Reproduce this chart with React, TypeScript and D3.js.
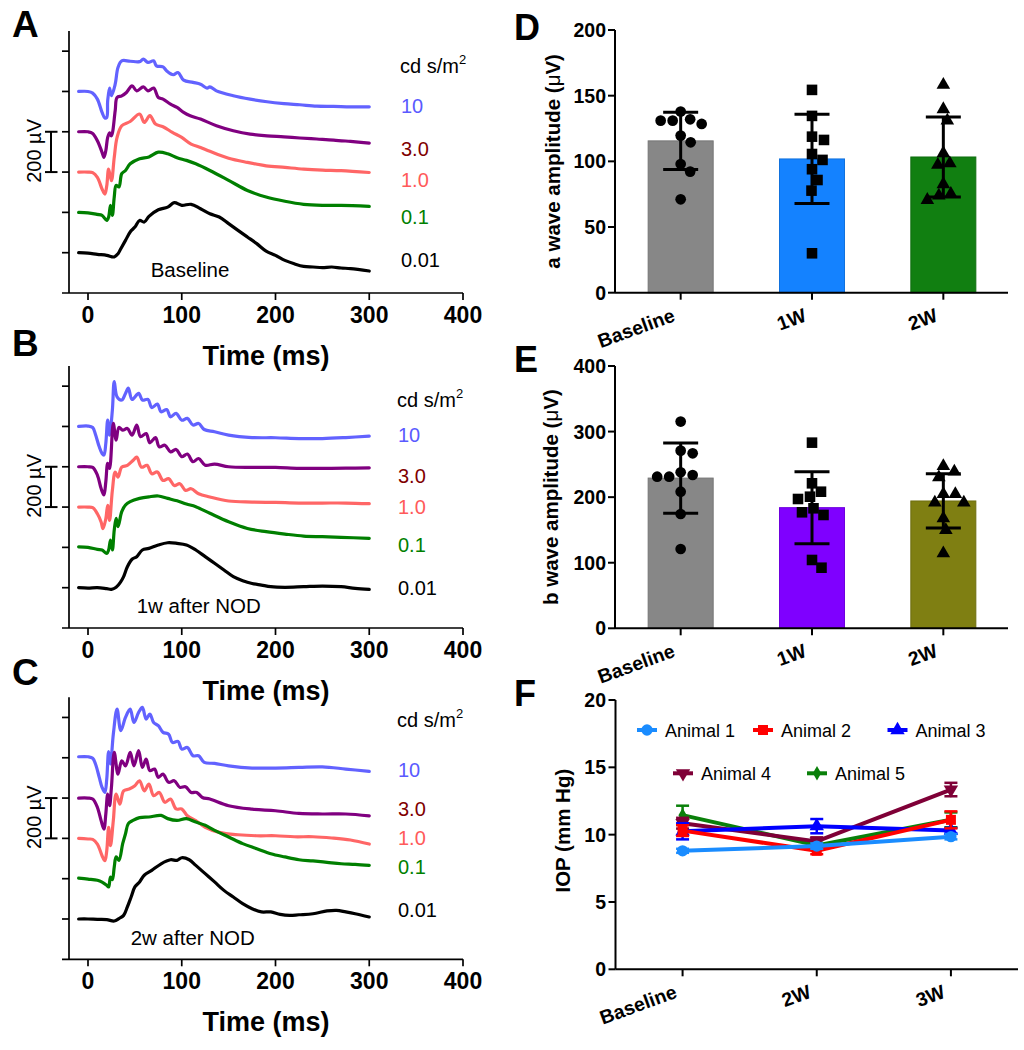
import React from "react";
import * as d3 from "d3";

type Pt = [number, number];

const FONT = "'Liberation Sans', Arial, Helvetica, sans-serif";

// ---------------- ERG traces: [time (ms), amplitude (µV) relative to the trace's own baseline]
// Panel A – Baseline
const ergA_10: Pt[] = [[-10,0],[0,0],[5,-8],[10,-38],[15,-104],[18,-132],[20,-129],[21,-46],[23,17],[25,-21],[29,36],[32,119],[36,152],[45,150],[55,148],[59,160],[64,144],[70,152],[73,127],[80,122],[84,102],[91,83],[96,94],[102,56],[112,45],[120,36],[127,17],[130,23],[137,3],[155,-21],[173,-38],[191,-51],[209,-60],[226,-66],[244,-73],[262,-74],[280,-76],[300,-76]];
const ergA_3: Pt[] = [[-10,0],[0,0],[5,-8],[10,-45],[15,-102],[17,-127],[19,-94],[21,-28],[23,-5],[25,-20],[29,104],[31,170],[36,178],[41,195],[47,228],[52,203],[59,223],[64,203],[70,217],[75,170],[80,162],[88,137],[95,121],[102,96],[109,79],[120,63],[137,30],[155,5],[173,-12],[191,-20],[209,-25],[226,-31],[244,-36],[262,-41],[280,-48],[300,-56]];
const ergA_1: Pt[] = [[-10,0],[0,0],[5,-3],[10,-26],[15,-84],[18,-109],[20,-68],[22,15],[25,-43],[28,73],[31,172],[36,230],[45,251],[55,288],[60,246],[66,280],[72,238],[80,225],[90,197],[100,172],[110,139],[120,122],[130,103],[150,69],[170,48],[190,31],[210,23],[230,15],[250,10],[270,7],[300,-2]];
const ergA_01: Pt[] = [[-10,0],[0,-2],[10,-10],[15,-15],[20,-40],[22,-23],[24,35],[26,-15],[28,76],[30,134],[33,126],[36,192],[40,208],[45,241],[55,266],[65,275],[75,299],[85,291],[95,271],[105,258],[115,241],[130,208],[150,159],[170,109],[190,76],[210,55],[230,40],[250,35],[270,35],[300,30]];
const ergA_001: Pt[] = [[-10,0],[0,-2],[10,-8],[20,-13],[28,-21],[32,-5],[35,20],[40,61],[45,103],[50,127],[55,160],[60,152],[65,180],[75,213],[85,226],[92,248],[100,235],[110,240],[120,218],[130,193],[140,177],[150,144],[160,111],[170,78],[180,45],[190,8],[200,-13],[210,-38],[220,-55],[230,-68],[240,-71],[250,-74],[260,-71],[270,-76],[280,-79],[300,-91]];

// Panel B – 1w after NOD
const ergB_10: Pt[] = [[-10,0],[0,2],[5,-5],[8,-40],[12,-101],[15,-134],[17,-142],[19,-84],[21,31],[23,-43],[26,81],[28,222],[31,147],[36,131],[40,164],[43,190],[47,134],[54,164],[58,131],[64,134],[68,94],[74,111],[78,73],[84,84],[88,48],[94,65],[100,31],[106,40],[112,7],[118,15],[124,-15],[135,-26],[150,-43],[175,-55],[200,-56],[225,-60],[250,-60],[275,-55],[300,-48]];
const ergB_3: Pt[] = [[-10,0],[0,0],[5,-3],[10,-41],[14,-108],[17,-140],[19,-74],[21,17],[23,-8],[27,215],[30,132],[33,195],[37,182],[42,190],[47,157],[52,207],[56,149],[62,165],[66,119],[72,145],[76,99],[82,107],[88,74],[94,86],[100,50],[106,63],[112,25],[118,41],[125,8],[135,13],[150,0],[175,-3],[200,-3],[225,-8],[250,-8],[275,-7],[300,-5]];
const ergB_1: Pt[] = [[-10,0],[0,0],[5,-3],[10,-33],[14,-74],[16,-107],[19,-58],[21,8],[23,-66],[26,83],[29,174],[32,149],[36,198],[42,207],[48,231],[52,248],[57,198],[63,207],[68,165],[74,174],[80,132],[86,141],[92,107],[98,116],[104,83],[110,91],[118,66],[130,50],[150,30],[175,25],[200,23],[225,20],[250,20],[275,20],[300,17]];
const ergB_01: Pt[] = [[-10,3],[0,0],[10,-10],[15,-13],[20,-30],[22,-13],[24,36],[26,-13],[28,86],[30,144],[32,103],[36,177],[40,210],[45,227],[55,243],[65,251],[75,255],[85,243],[95,231],[105,215],[115,202],[130,169],[150,127],[170,94],[190,78],[210,66],[230,56],[250,53],[270,50],[300,45]];
const ergB_001: Pt[] = [[-10,0],[0,-2],[10,0],[20,-5],[25,-8],[30,2],[35,30],[38,55],[42,104],[47,141],[52,154],[58,187],[65,195],[75,212],[85,223],[95,220],[105,212],[115,187],[125,154],[135,121],[145,88],[155,55],[165,35],[175,21],[185,13],[195,5],[210,2],[230,5],[250,8],[270,5],[285,-3],[300,-8]];

// Panel C – 2w after NOD
const ergC_10: Pt[] = [[-10,5],[0,5],[5,-2],[8,-31],[12,-97],[15,-147],[18,-172],[20,-106],[22,31],[24,-31],[27,117],[31,241],[35,134],[40,200],[45,241],[49,175],[54,225],[58,250],[62,192],[66,217],[70,175],[75,159],[80,126],[86,117],[90,76],[96,81],[100,43],[106,51],[112,10],[118,10],[124,-23],[135,-28],[150,-40],[175,-51],[200,-51],[225,-48],[250,-45],[275,-56],[300,-68]];
const ergC_3: Pt[] = [[-10,0],[0,0],[5,-5],[10,-46],[14,-112],[17,-154],[19,-79],[21,20],[23,-38],[25,53],[28,227],[32,119],[36,185],[40,160],[45,227],[49,160],[54,235],[58,152],[62,193],[66,136],[71,144],[75,103],[80,119],[86,78],[92,86],[98,53],[104,56],[110,28],[116,28],[122,3],[130,-5],[150,-38],[175,-55],[200,-63],[225,-76],[250,-79],[275,-79],[300,-88]];
const ergC_1: Pt[] = [[-10,0],[0,-3],[5,-5],[10,-28],[15,-86],[18,-111],[20,-61],[22,55],[24,-36],[27,88],[30,220],[34,170],[38,236],[44,245],[50,261],[55,286],[60,236],[65,269],[70,212],[76,228],[82,179],[88,195],[94,146],[100,146],[106,112],[115,88],[125,55],[140,30],[160,18],[180,13],[200,13],[220,8],[240,8],[260,2],[280,-8],[300,-28]];
const ergC_01: Pt[] = [[-10,3],[0,-2],[10,-8],[15,-17],[20,-33],[22,-41],[24,8],[26,-5],[28,58],[30,108],[33,91],[37,174],[40,223],[43,273],[48,289],[55,303],[65,306],[78,314],[85,298],[95,289],[105,298],[115,281],[125,265],[135,240],[150,207],[165,174],[180,149],[195,124],[210,108],[225,94],[240,88],[255,81],[270,74],[285,71],[300,66]];
const ergC_001: Pt[] = [[-10,0],[0,0],[10,-2],[20,-3],[28,-10],[33,2],[38,18],[42,60],[46,109],[50,159],[55,184],[60,217],[68,241],[78,274],[88,294],[95,291],[100,304],[108,294],[115,266],[125,225],[135,184],[145,142],[155,109],[165,76],[175,51],[185,35],[195,35],[205,23],[215,18],[225,21],[240,26],[255,40],[265,43],[275,35],[285,26],[300,10]];

const intensityLabels = ["10", "3.0", "1.0", "0.1", "0.01"];
const timeTicks = [0, 100, 200, 300, 400];
const ergYTicks = [0, 200, 400, 600, 800, 1000];

// ---------------- Bar charts (individual eyes)
const barCategories = ["Baseline", "1W", "2W"];
const aWaveBaseline = [132, 131, 128.5, 131, 137.9, 114.5, 119.6, 98, 92.2, 71.1];
const aWave1W = [154.4, 134.6, 118.8, 116.3, 105.6, 101.1, 94, 85.8, 77.7, 30];
const aWave2W = [158.2, 139.7, 131, 106.2, 98.5, 97.3, 82.6, 75.2, 73.9, 70.6];
const bWaveBaseline = [315.3, 266.9, 270.9, 237.9, 231.2, 233.8, 231.2, 208.3, 174.3, 120.9];
const bWave1W = [283.1, 221.1, 197.2, 200.7, 208.3, 183, 176.9, 172.8, 92.4, 104.2];
const bWave2W = [238.9, 247.5, 230.3, 204.8, 204.8, 191.6, 191.6, 167.8, 149.9, 114.4];
const aTicks = [0, 50, 100, 150, 200];
const bTicks = [0, 100, 200, 300, 400];

// ---------------- IOP
const iopCategories = ["Baseline", "2W", "3W"];
const animalNames = ["Animal 1", "Animal 2", "Animal 3", "Animal 4", "Animal 5"];
const iopAnimal1 = [8.8, 9.15, 9.85];
const iopAnimal2 = [10.3, 8.8, 11.1];
const iopAnimal3 = [10.25, 10.63, 10.3];
const iopAnimal4 = [10.85, 9.5, 13.35];
const iopAnimal5 = [11.45, 9.2, 11.1];
const iopErr1 = [0.15, 0.2, 0.2];
const iopErr2 = [0.4, 0.25, 0.63];
const iopErr3 = [0.6, 0.53, 0.2];
const iopErr4 = [0.4, 0.3, 0.5];
const iopErr5 = [0.7, 0.2, 0.55];
const iopTicks = [0, 5, 10, 15, 20];

// ---------------- styles
const traceColors = ["#6262ff", "#800080", "#ff6666", "#007f00", "#000000"];
const labelColors = ["#5a5aff", "#800000", "#ff5a5a", "#008000", "#000000"];
const traceOffsets = [800, 600, 400, 200, 0];

type ErgProps = {
  letter: string; letterY: number; axisTop: number; axisBottom: number;
  traces: Pt[][]; labelX: number; cdY: number; labelYs: number[];
  note: string; noteX: number; noteY: number;
};

function ErgPanel(p: ErgProps) {
  const x = d3.scaleLinear().domain([0, 400]).range([88, 463]);
  const y = d3.scaleLinear().domain([-200, 1100]).range([p.axisBottom, p.axisTop]);
  const line = d3.line<Pt>().x(d => x(d[0])).y(d => y(d[1])).curve(d3.curveCatmullRom.alpha(0.5));
  const axX = 69;
  return (
    <g>
      <text x={12} y={p.letterY} fontSize={37} fontWeight="bold" fontFamily={FONT}>{p.letter}</text>
      {/* traces */}
      {p.traces.map((tr, i) => (
        <path key={i} d={line(tr.map(([t, v]) => [t, v + traceOffsets[i]] as Pt)) || ""}
          fill="none" stroke={traceColors[i]} strokeWidth={3.2} strokeLinejoin="round" strokeLinecap="round" />
      ))}
      {/* y axis */}
      <line x1={axX} x2={axX} y1={p.axisTop} y2={p.axisBottom} stroke="#000" strokeWidth={1.7} />
      {ergYTicks.map(t => (
        <line key={t} x1={62} x2={axX} y1={y(t)} y2={y(t)} stroke="#000" strokeWidth={1.7} />
      ))}
      {/* x axis */}
      <line x1={62} x2={x(400)} y1={p.axisBottom} y2={p.axisBottom} stroke="#000" strokeWidth={1.7} />
      {timeTicks.map(t => (
        <g key={t}>
          <line x1={x(t)} x2={x(t)} y1={p.axisBottom} y2={p.axisBottom + 7} stroke="#000" strokeWidth={1.7} />
          <text x={x(t)} y={p.axisBottom + 30} textAnchor="middle" fontSize={23} fontWeight="bold" fontFamily={FONT}>{t}</text>
        </g>
      ))}
      <text x={266} y={p.axisBottom + 72} textAnchor="middle" fontSize={27} fontWeight="bold" fontFamily={FONT}>Time (ms)</text>
      {/* scale bar */}
      <line x1={51} x2={51} y1={y(600)} y2={y(400)} stroke="#000" strokeWidth={2} />
      <line x1={45} x2={57.5} y1={y(600)} y2={y(600)} stroke="#000" strokeWidth={2} />
      <line x1={45} x2={57.5} y1={y(400)} y2={y(400)} stroke="#000" strokeWidth={2} />
      <text transform={`translate(41,${y(500) - 1}) rotate(-90)`} textAnchor="middle" fontSize={20} fontFamily={FONT}>200 µV</text>
      {/* intensity labels */}
      <text x={p.labelX} y={p.cdY} fontSize={20} fontFamily={FONT}>cd s/m<tspan fontSize={13} dy={-9}>2</tspan></text>
      {intensityLabels.map((l, i) => (
        <text key={l} x={p.labelX + 1} y={p.labelYs[i]} fontSize={20} fill={labelColors[i]} fontFamily={FONT}>{l}</text>
      ))}
      <text x={p.noteX} y={p.noteY} fontSize={20.5} fontFamily={FONT}>{p.note}</text>
    </g>
  );
}

function swarm(values: number[], yPos: (v: number) => number, minDist: number): number[] {
  const placed: { x: number; y: number }[] = [];
  const order = values.map((_, i) => i).sort((a, b) => values[b] - values[a]);
  const xs = values.map(() => 0);
  for (const i of order) {
    const py = yPos(values[i]);
    let best = 0;
    for (let step = 0; step < 400; step++) {
      const cand = step === 0 ? 0 : (step % 2 ? 1 : -1) * Math.ceil(step / 2) * 0.5;
      if (placed.every(q => Math.hypot(q.x - cand, q.y - py) >= minDist)) { best = cand; break; }
    }
    xs[i] = best;
    placed.push({ x: best, y: py });
  }
  return xs;
}

const markerPaths = [
  d3.symbol().type(d3.symbolCircle).size(90)() || "",
  d3.symbol().type(d3.symbolSquare).size(112)() || "",
  d3.symbol().type(d3.symbolTriangle).size(80)() || "",
];

type BarProps = {
  letter: string; letterY: number; top: number; bottom: number; max: number; ticks: number[];
  groups: number[][]; colors: string[]; label: string; labelX: number;
};

function BarPanel(p: BarProps) {
  const x = d3.scalePoint<string>().domain(barCategories).range([615, 1009]).padding(0.5);
  const y = d3.scaleLinear().domain([0, p.max]).range([p.bottom, p.top]);
  const barW = 65;
  return (
    <g fontFamily={FONT}>
      <text x={514} y={p.letterY} fontSize={36} fontWeight="bold">{p.letter}</text>
      {barCategories.map((c, gi) => {
        const vals = p.groups[gi];
        const m = d3.mean(vals) as number;
        const sd = d3.deviation(vals) as number;
        const cx = x(c) as number;
        const offs = swarm(vals, y, 12);
        return (
          <g key={c}>
            <rect x={cx - barW / 2} y={y(m)} width={barW} height={p.bottom - y(m)} fill={p.colors[gi]}
              stroke={d3.color(p.colors[gi])!.darker(0.4).toString()} strokeWidth={1} />
            {vals.map((v, i) => (
              <path key={i} d={markerPaths[gi]} transform={`translate(${cx + offs[i]},${y(v)})`} fill="#000" />
            ))}
            <line x1={cx} x2={cx} y1={y(m - sd)} y2={y(m + sd)} stroke="#000" strokeWidth={3} />
            <line x1={cx - 17.5} x2={cx + 17.5} y1={y(m - sd)} y2={y(m - sd)} stroke="#000" strokeWidth={3} />
            <line x1={cx - 17.5} x2={cx + 17.5} y1={y(m + sd)} y2={y(m + sd)} stroke="#000" strokeWidth={3} />
          </g>
        );
      })}
      <line x1={615} x2={615} y1={p.top} y2={p.bottom} stroke="#000" strokeWidth={2} />
      <line x1={615} x2={1008} y1={p.bottom} y2={p.bottom} stroke="#000" strokeWidth={2} />
      {p.ticks.map(t => (
        <g key={t}>
          <line x1={608} x2={615} y1={y(t)} y2={y(t)} stroke="#000" strokeWidth={2} />
          <text x={606} y={y(t) + 7} textAnchor="end" fontSize={19.5} fontWeight="bold">{t}</text>
        </g>
      ))}
      {barCategories.map(c => (
        <g key={c}>
          <line x1={x(c)} x2={x(c)} y1={p.bottom} y2={p.bottom + 7} stroke="#000" strokeWidth={2} />
          <text transform={`translate(${(x(c) as number) - 4.5},${p.bottom + 28}) rotate(-20)`} textAnchor="end"
            fontSize={19.5} fontWeight="bold">{c}</text>
        </g>
      ))}
      <text transform={`translate(${p.labelX},${(p.top + p.bottom) / 2}) rotate(-90)`} textAnchor="middle" fontSize={20.5} fontWeight="bold">
        {p.label} (<tspan fontWeight="normal">μ</tspan>V)
      </text>
    </g>
  );
}

const animalColors = ["#1a8cff", "#ff0000", "#0000ff", "#7f0037", "#0a800a"];
const animalSymbols = [
  d3.symbol().type(d3.symbolCircle).size(100)() || "",
  d3.symbol().type(d3.symbolSquare).size(100)() || "",
  d3.symbol().type(d3.symbolTriangle).size(90)() || "",
  d3.symbol().type(d3.symbolTriangle).size(90)() || "",
  d3.symbol().type(d3.symbolDiamond).size(60)() || "",
];
const animalRot = [0, 0, 0, 180, 0];
const legendPos = [[647, 730], [763, 730], [897.5, 730], [683, 773.3], [817, 773.3]];

function IopPanel() {
  const top = 700, bottom = 969.3;
  const x = d3.scalePoint<string>().domain(iopCategories).range([615.5, 1018]).padding(0.5);
  const y = d3.scaleLinear().domain([0, 20]).range([bottom, top]);
  const series = [iopAnimal1, iopAnimal2, iopAnimal3, iopAnimal4, iopAnimal5];
  const errs = [iopErr1, iopErr2, iopErr3, iopErr4, iopErr5];
  const line = d3.line<number>().x((_, i) => x(iopCategories[i]) as number).y(d => y(d));
  const order = [4, 3, 2, 1, 0];
  return (
    <g fontFamily={FONT}>
      <text x={514} y={706} fontSize={36} fontWeight="bold">F</text>
      {order.map(a => (
        <g key={a}>
          <path d={line(series[a]) || ""} fill="none" stroke={animalColors[a]} strokeWidth={4} strokeLinejoin="round" />
          {series[a].map((v, i) => {
            const cx = x(iopCategories[i]) as number;
            const e = errs[a][i];
            return (
              <g key={i}>
                <line x1={cx} x2={cx} y1={y(v - e)} y2={y(v + e)} stroke={animalColors[a]} strokeWidth={2.5} />
                <line x1={cx - 6.5} x2={cx + 6.5} y1={y(v - e)} y2={y(v - e)} stroke={animalColors[a]} strokeWidth={2.5} />
                <line x1={cx - 6.5} x2={cx + 6.5} y1={y(v + e)} y2={y(v + e)} stroke={animalColors[a]} strokeWidth={2.5} />
                <path d={animalSymbols[a]} transform={`translate(${cx},${y(v)}) rotate(${animalRot[a]})`} fill={animalColors[a]} />
              </g>
            );
          })}
        </g>
      ))}
      <line x1={615.5} x2={615.5} y1={top} y2={bottom} stroke="#000" strokeWidth={2} />
      <line x1={615.5} x2={1018} y1={bottom} y2={bottom} stroke="#000" strokeWidth={2} />
      {iopTicks.map(t => (
        <g key={t}>
          <line x1={608.5} x2={615.5} y1={y(t)} y2={y(t)} stroke="#000" strokeWidth={2} />
          <text x={606} y={y(t) + 7} textAnchor="end" fontSize={19.5} fontWeight="bold">{t}</text>
        </g>
      ))}
      {iopCategories.map(c => (
        <g key={c}>
          <line x1={x(c)} x2={x(c)} y1={bottom} y2={bottom + 7} stroke="#000" strokeWidth={2} />
          <text transform={`translate(${(x(c) as number) - 4.5},${bottom + 28}) rotate(-20)`} textAnchor="end"
            fontSize={19.5} fontWeight="bold">{c}</text>
        </g>
      ))}
      <text transform={`translate(569.5,${(top + bottom) / 2 - 4}) rotate(-90)`} textAnchor="middle" fontSize={20.5} fontWeight="bold">IOP (mm Hg)</text>
      {animalNames.map((n, a) => {
        const [lx, ly] = legendPos[a];
        return (
          <g key={n}>
            <line x1={lx - 10} x2={lx + 10} y1={ly} y2={ly} stroke={animalColors[a]} strokeWidth={4} />
            <path d={animalSymbols[a]} transform={`translate(${lx},${ly}) rotate(${animalRot[a]})`} fill={animalColors[a]} />
            <text x={lx + 18} y={ly + 6.5} fontSize={18}>{n}</text>
          </g>
        );
      })}
    </g>
  );
}

export default function App() {
  return (
    <div style={{ position: "absolute", left: 0, top: 0 }}>
      <svg width={1024} height={1050} viewBox="0 0 1024 1050" style={{ display: "block", background: "#fff" }}>
        <ErgPanel letter="A" letterY={37} axisTop={31} axisBottom={293}
          traces={[ergA_10, ergA_3, ergA_1, ergA_01, ergA_001]}
          labelX={400} cdY={73.3} labelYs={[113.3, 156, 186.7, 224, 266.7]}
          note="Baseline" noteX={150.7} noteY={276.7} />
        <ErgPanel letter="B" letterY={356} axisTop={366} axisBottom={628}
          traces={[ergB_10, ergB_3, ergB_1, ergB_01, ergB_001]}
          labelX={397} cdY={406.7} labelYs={[441.7, 483.3, 514.3, 551.7, 595]}
          note="1w after NOD" noteX={136.7} noteY={613.3} />
        <ErgPanel letter="C" letterY={685} axisTop={697.3} axisBottom={959.3}
          traces={[ergC_10, ergC_3, ergC_1, ergC_01, ergC_001]}
          labelX={397} cdY={726.7} labelYs={[776.7, 816, 845, 874.3, 917.3]}
          note="2w after NOD" noteX={130.7} noteY={945} />
        <BarPanel letter="D" letterY={40} top={30} bottom={292.7} max={200} ticks={aTicks}
          groups={[aWaveBaseline, aWave1W, aWave2W]} colors={["#878787", "#1482ff", "#117f11"]}
          label="a wave amplitude" labelX={560} />
        <BarPanel letter="E" letterY={372} top={366} bottom={628.3} max={400} ticks={bTicks}
          groups={[bWaveBaseline, bWave1W, bWave2W]} colors={["#878787", "#7f00ff", "#7f7f12"]}
          label="b wave amplitude" labelX={558} />
        <IopPanel />
      </svg>
    </div>
  );
}
